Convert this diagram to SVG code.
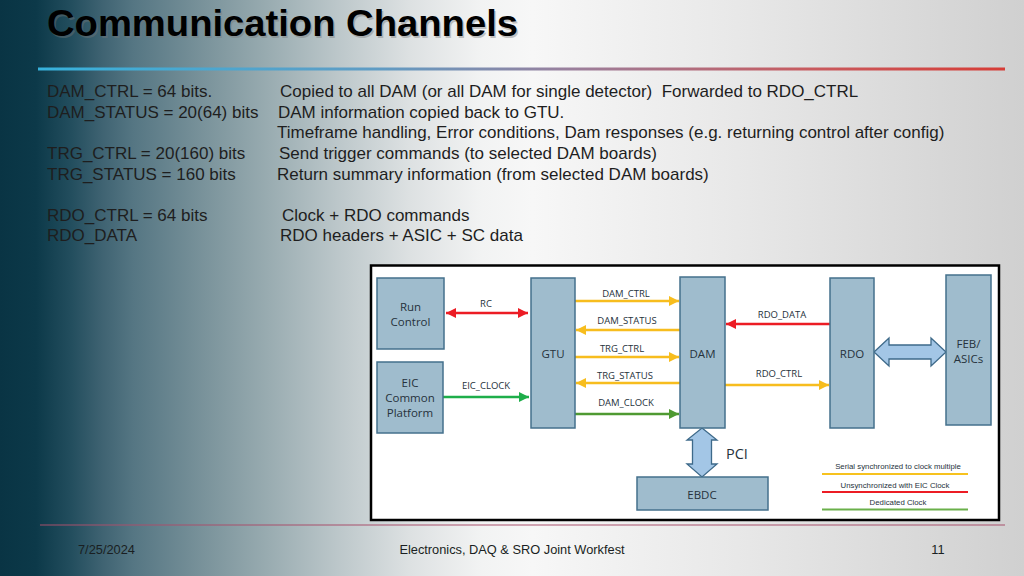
<svg xmlns="http://www.w3.org/2000/svg" width="1024" height="576" viewBox="0 0 1024 576">
<defs>
<linearGradient id="bg" x1="0" y1="0" x2="1024" y2="0" gradientUnits="userSpaceOnUse">
<stop offset="0" stop-color="#093444"/>
<stop offset="0.035" stop-color="#0c3949"/>
<stop offset="0.07" stop-color="#234e5e"/>
<stop offset="0.1" stop-color="#3f6372"/>
<stop offset="0.13" stop-color="#557683"/>
<stop offset="0.2" stop-color="#7a939b"/>
<stop offset="0.26" stop-color="#98abb0"/>
<stop offset="0.33" stop-color="#bcc7ca"/>
<stop offset="0.4" stop-color="#dde1e2"/>
<stop offset="0.47" stop-color="#f2f3f3"/>
<stop offset="0.52" stop-color="#f7f7f7"/>
<stop offset="0.72" stop-color="#e8e8e8"/>
<stop offset="1" stop-color="#d0d0d0"/>
</linearGradient>
<linearGradient id="topline" x1="38" y1="0" x2="1005" y2="0" gradientUnits="userSpaceOnUse">
<stop offset="0" stop-color="#37b2dc"/>
<stop offset="0.35" stop-color="#5f9cc4"/>
<stop offset="0.55" stop-color="#9a7f9c"/>
<stop offset="0.8" stop-color="#c85a5e"/>
<stop offset="1" stop-color="#d63c36"/>
</linearGradient>
<marker id="ay" viewBox="0 0 10 10" refX="10" refY="5" markerWidth="11" markerHeight="10" markerUnits="userSpaceOnUse" orient="auto-start-reverse"><path d="M0,0 L10,5 L0,10 z" fill="#f7bd1e"/></marker>
<marker id="ar" viewBox="0 0 10 10" refX="10" refY="5" markerWidth="11" markerHeight="10" markerUnits="userSpaceOnUse" orient="auto-start-reverse"><path d="M0,0 L10,5 L0,10 z" fill="#ec1c24"/></marker>
<marker id="ag" viewBox="0 0 10 10" refX="10" refY="5" markerWidth="11" markerHeight="10" markerUnits="userSpaceOnUse" orient="auto-start-reverse"><path d="M0,0 L10,5 L0,10 z" fill="#1eae4a"/></marker>
<marker id="ag2" viewBox="0 0 10 10" refX="10" refY="5" markerWidth="11" markerHeight="10" markerUnits="userSpaceOnUse" orient="auto-start-reverse"><path d="M0,0 L10,5 L0,10 z" fill="#4f9a32"/></marker>
<style>
.body{font-family:"Liberation Sans",Arial,sans-serif;font-size:17px;fill:#1e1e1e}
.foot{font-family:"Liberation Sans",Arial,sans-serif;font-size:12.8px;fill:#1a1f22}
.node{fill:#9fbccd;stroke:#44708c;stroke-width:1.5}
.nl{font-family:"Open Sans","Liberation Sans",sans-serif;font-size:11.5px;fill:#26323c;text-anchor:middle;dominant-baseline:central}
.cl{font-family:"Open Sans","Liberation Sans",sans-serif;font-size:9.5px;fill:#26323c;text-anchor:middle;dominant-baseline:central}
.lg{font-family:"Liberation Sans",Arial,sans-serif;font-size:7.8px;fill:#26323c;text-anchor:middle;dominant-baseline:central}
.y{stroke:#f7bd1e;stroke-width:2.5;fill:none}
.r{stroke:#ec1c24;stroke-width:2.5;fill:none}
.g{stroke:#1eae4a;stroke-width:2.5;fill:none}
.g2{stroke:#4f9a32;stroke-width:2.5;fill:none}
.blk{fill:#a3c6e6;stroke:#3e6a8a;stroke-width:1.3}
</style>
</defs>
<rect x="0" y="0" width="1024" height="576" fill="url(#bg)"/>
<text x="48.5" y="37.5" font-family="Liberation Sans,Arial,sans-serif" font-weight="bold" font-size="37" fill="#777" opacity="0.4" textLength="471" lengthAdjust="spacingAndGlyphs">Communication Channels</text>
<text x="47" y="36" font-family="Liberation Sans,Arial,sans-serif" font-weight="bold" font-size="37" fill="#000" textLength="471" lengthAdjust="spacingAndGlyphs">Communication Channels</text>
<rect x="38" y="67.5" width="967" height="3" fill="url(#topline)"/>

<g id="text-left">
<text class="body" x="47" y="97">DAM_CTRL = 64 bits.</text>
<text class="body" x="47" y="118">DAM_STATUS = 20(64) bits</text>
<text class="body" x="47" y="159">TRG_CTRL = 20(160) bits</text>
<text class="body" x="47" y="180">TRG_STATUS = 160 bits</text>
<text class="body" x="47" y="221">RDO_CTRL = 64 bits</text>
<text class="body" x="47" y="241">RDO_DATA</text>
</g>
<g id="text-right">
<text class="body" x="280" y="97">Copied to all DAM (or all DAM for single detector)&#160; Forwarded to RDO_CTRL</text>
<text class="body" x="278" y="118">DAM information copied back to GTU.</text>
<text class="body" x="277" y="138">Timeframe handling, Error conditions, Dam responses (e.g. returning control after config)</text>
<text class="body" x="279" y="159">Send trigger commands (to selected DAM boards)</text>
<text class="body" x="277" y="180">Return summary information (from selected DAM boards)</text>
<text class="body" x="282" y="221">Clock + RDO commands</text>
<text class="body" x="280" y="241">RDO headers + ASIC + SC data</text>
</g>

<rect x="371" y="265.5" width="628" height="254.5" fill="#ffffff" stroke="#000" stroke-width="2.5"/>

<g id="connectors">
<line class="r" x1="446" y1="313" x2="528" y2="313" marker-start="url(#ar)" marker-end="url(#ar)"/>
<text class="cl" x="486" y="303">RC</text>
<line class="g" x1="443" y1="397" x2="529" y2="397" marker-end="url(#ag)"/>
<text class="cl" x="486" y="385">EIC_CLOCK</text>
<line class="y" x1="575" y1="301" x2="679" y2="301" marker-end="url(#ay)"/>
<text class="cl" x="626" y="293">DAM_CTRL</text>
<line class="y" x1="680" y1="330" x2="576" y2="330" marker-end="url(#ay)"/>
<text class="cl" x="627" y="320">DAM_STATUS</text>
<line class="y" x1="575" y1="357" x2="679" y2="357" marker-end="url(#ay)"/>
<text class="cl" x="622" y="348">TRG_CTRL</text>
<line class="y" x1="680" y1="383" x2="576" y2="383" marker-end="url(#ay)"/>
<text class="cl" x="625" y="375">TRG_STATUS</text>
<line class="g2" x1="575" y1="414" x2="679" y2="414" marker-end="url(#ag2)"/>
<text class="cl" x="626" y="402">DAM_CLOCK</text>
<line class="r" x1="830" y1="324" x2="726" y2="324" marker-end="url(#ar)"/>
<text class="cl" x="782" y="314">RDO_DATA</text>
<line class="y" x1="725" y1="385" x2="829" y2="385" marker-end="url(#ay)"/>
<text class="cl" x="779" y="373">RDO_CTRL</text>
<path class="blk" d="M874,352 L889,338 L889,345 L931,345 L931,338 L946,352 L931,366 L931,359 L889,359 L889,366 Z"/>
<path class="blk" d="M702,428 L717,440 L711.5,440 L711.5,464 L717,464 L702,477 L687,464 L692.5,464 L692.5,440 L687,440 Z"/>
<text x="726" y="458.5" font-family="Open Sans,Liberation Sans,sans-serif" font-size="14.5" fill="#26323c">PCI</text>
</g>

<g id="node-runcontrol">
<rect class="node" x="377" y="278" width="67" height="71"/>
<text class="nl" x="410.5" y="306">Run</text>
<text class="nl" x="410.5" y="321">Control</text>
</g>
<g id="node-eic">
<rect class="node" x="377" y="362" width="66" height="71"/>
<text class="nl" x="410" y="382">EIC</text>
<text class="nl" x="410" y="397">Common</text>
<text class="nl" x="410" y="412">Platform</text>
</g>
<g id="node-gtu">
<rect class="node" x="531" y="278" width="44" height="150"/>
<text class="nl" x="553" y="353">GTU</text>
</g>
<g id="node-dam">
<rect class="node" x="680" y="277" width="45" height="151"/>
<text class="nl" x="702.5" y="353">DAM</text>
</g>
<g id="node-rdo">
<rect class="node" x="830" y="278" width="44" height="150"/>
<text class="nl" x="852" y="353">RDO</text>
</g>
<g id="node-feb">
<rect class="node" x="946" y="275" width="45" height="150"/>
<text class="nl" x="968.5" y="343">FEB/</text>
<text class="nl" x="968.5" y="358">ASICs</text>
</g>
<g id="node-ebdc">
<rect class="node" x="637" y="477" width="131" height="33"/>
<text class="nl" x="702" y="494">EBDC</text>
</g>

<g id="legend">
<text class="lg" x="898" y="466">Serial synchronized to clock multiple</text>
<line x1="822" y1="474" x2="968" y2="474" stroke="#f7c21e" stroke-width="2"/>
<text class="lg" x="895" y="485">Unsynchronized with EIC Clock</text>
<line x1="822" y1="492" x2="968" y2="492" stroke="#ec1c24" stroke-width="2"/>
<text class="lg" x="898" y="502">Dedicated Clock</text>
<line x1="822" y1="509.5" x2="968" y2="509.5" stroke="#6ab04a" stroke-width="2"/>
</g>

<line x1="40" y1="525" x2="1005" y2="525" stroke="#a8506c" stroke-width="1.2"/>
<text class="foot" x="78" y="554">7/25/2024</text>
<text class="foot" x="512" y="554" text-anchor="middle">Electronics, DAQ &amp; SRO Joint Workfest</text>
<text class="foot" x="938" y="554" text-anchor="middle">11</text>
</svg>
